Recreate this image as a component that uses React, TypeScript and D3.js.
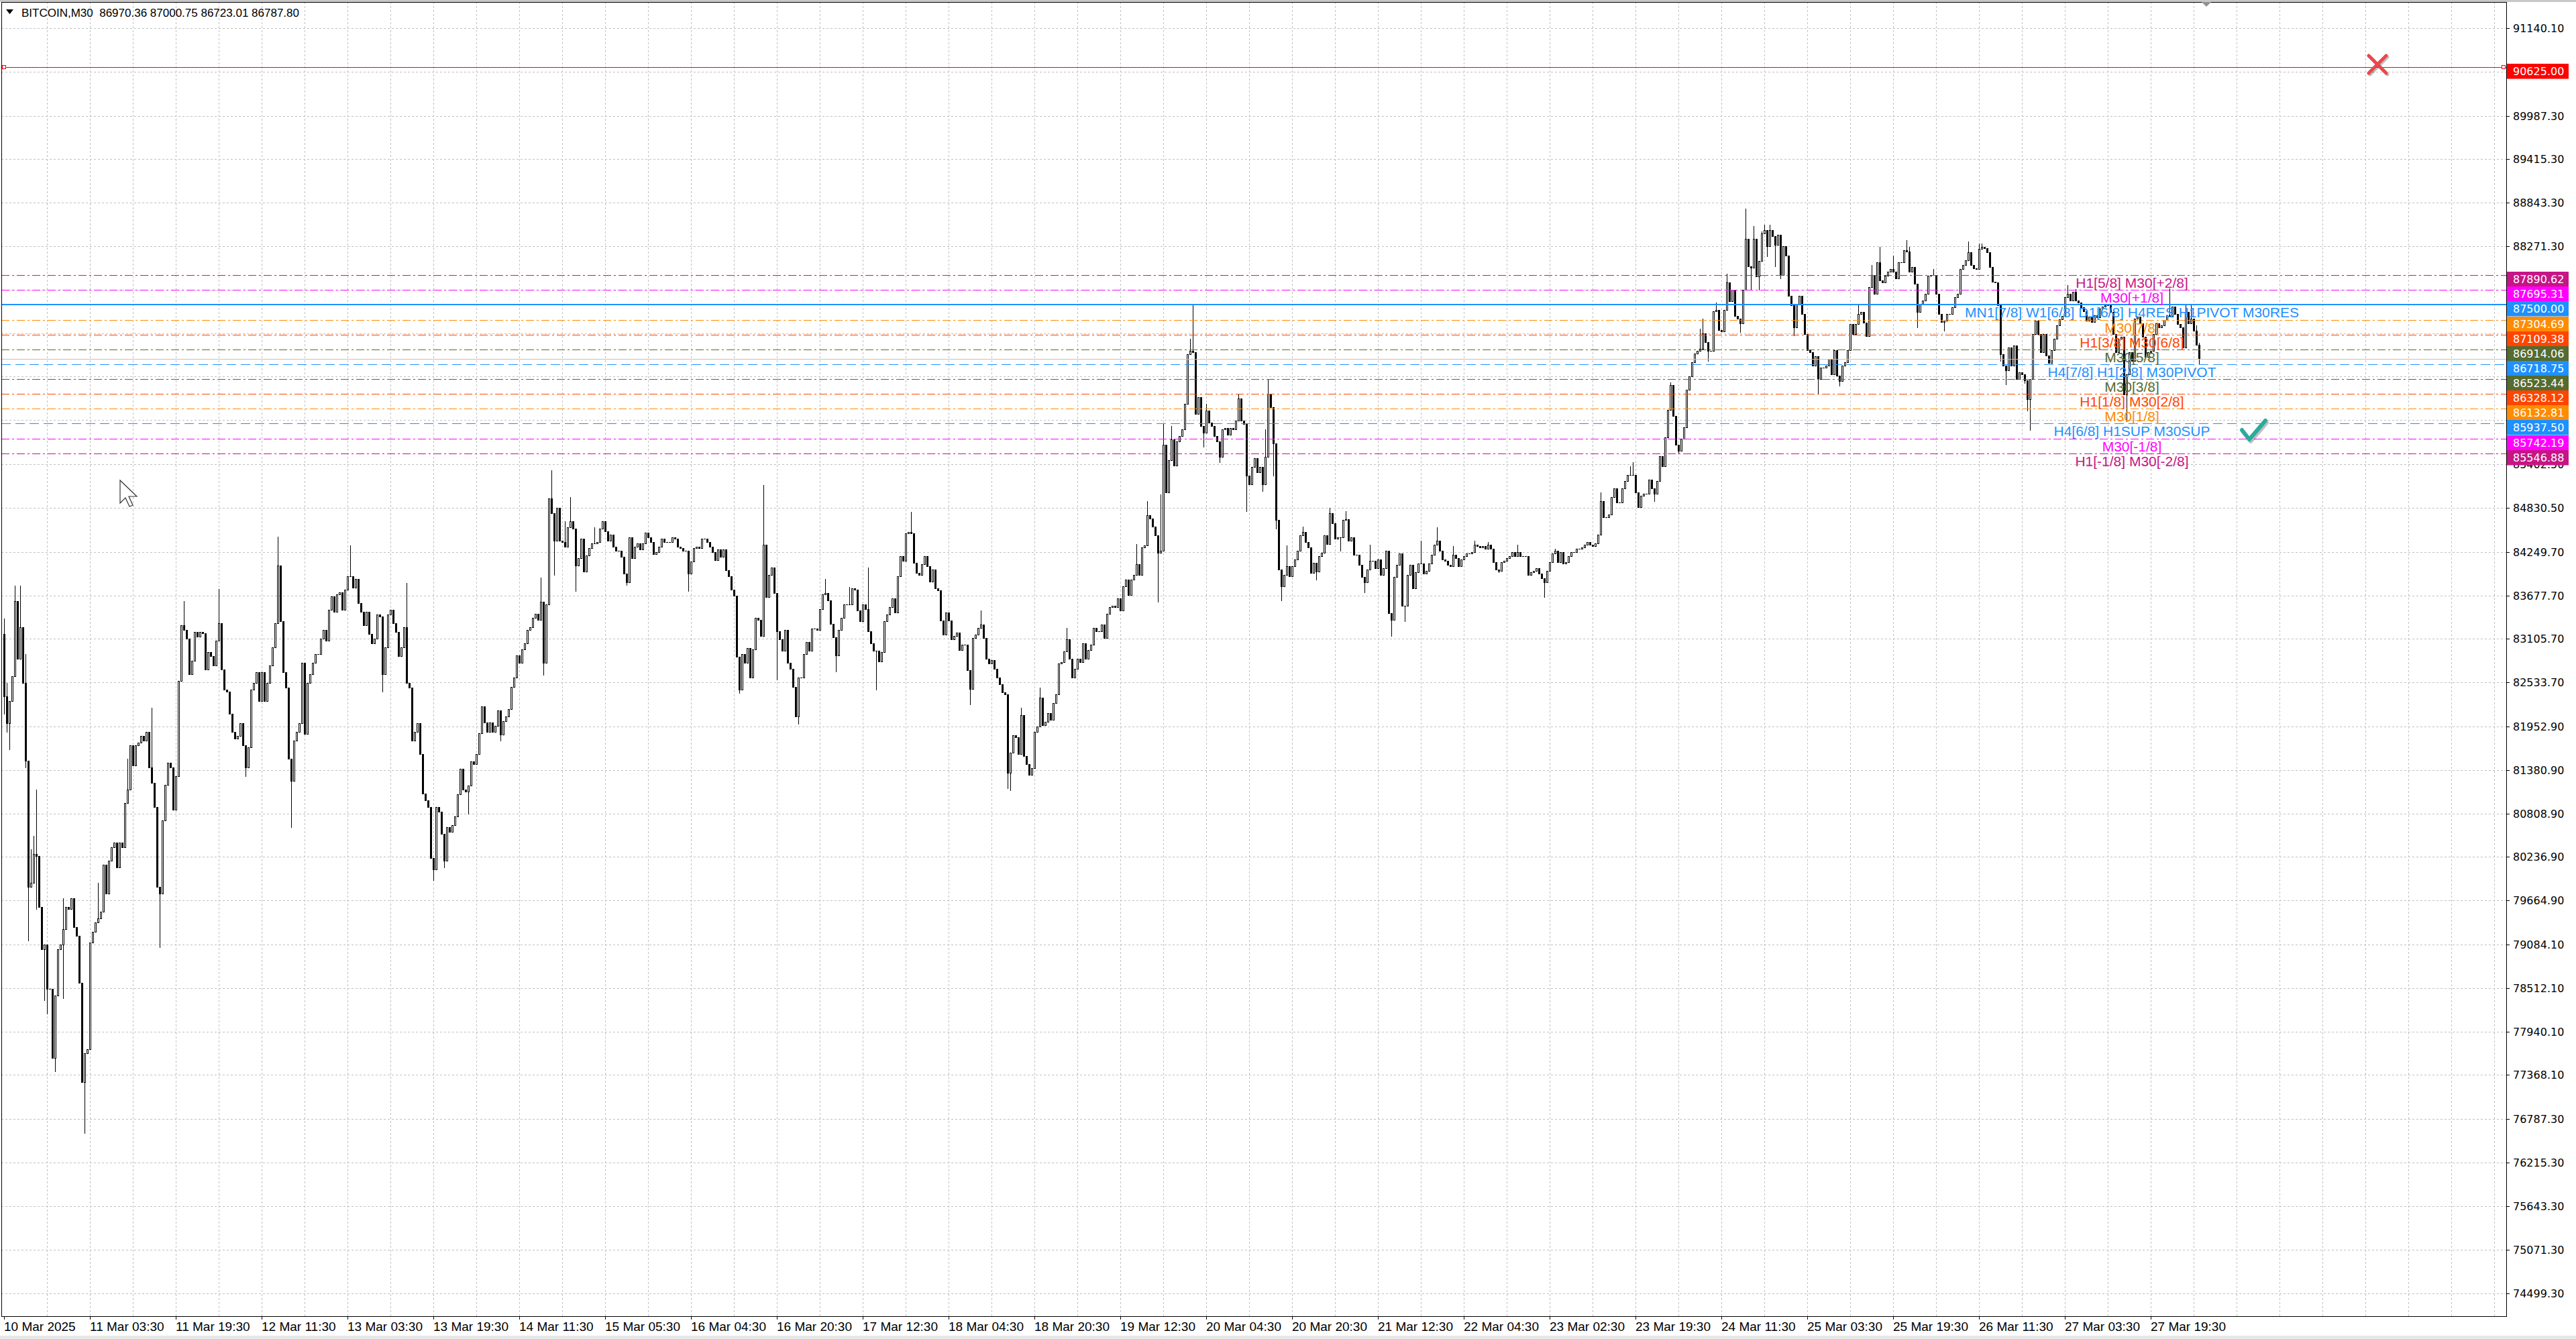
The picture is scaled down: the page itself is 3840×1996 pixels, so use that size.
import React, { useEffect, useRef } from 'react';
import * as d3 from 'd3';

const W = 3840;
const H = 1996;
const plotLeft = 2;
const plotRight = 3736;
const plotTop = 3;
const plotBottom = 1962;

// M30 closes (bar 0 = 10 Mar 11:30)
const firstOpen = 83167;
const closes = [
  82350, 82000, 82292, 82613, 83605, 82846, 83255, 82525, 81504, 79840,
  79898, 80278, 80249, 79578, 79023, 79081, 78498, 78498, 77593, 78410,
  79023, 79081, 79286, 79578, 79548, 79694, 79315, 79198, 78585, 77272,
  77651, 77710, 79110, 79256, 79373, 79432, 79519, 80132, 79753, 80190,
  80365, 80424, 80103, 80424, 80365, 80949, 81124, 81708, 81445, 81708,
  81737, 81825, 81766, 81883, 81416, 81212, 80891, 79840, 79753, 80716,
  81183, 81474, 81416, 80861, 81299, 82554, 83284, 83226, 83109, 82642,
  82817, 83196, 83138, 83196, 83179, 82700, 82934, 82875, 82759, 83080,
  83313, 82700, 82438, 82408, 82117, 81883, 81796, 81825, 82000, 81708,
  81416, 81679, 82438, 82525, 82671, 82292, 82671, 82292, 82525, 82759,
  82992, 83313, 84072, 83342, 82671, 82467, 81533, 81241, 81766, 81883,
  82000, 82788, 81854, 82525, 82642, 82788, 82905, 82905, 83109, 83226,
  83080, 83488, 83663, 83459, 83693, 83722, 83488, 83751, 83926, 83926,
  83780, 83897, 83576, 83459, 83284, 83459, 83167, 83050, 83109, 83430,
  83401, 82642, 82992, 83430, 83488, 83313, 83196, 82875, 82992, 83255,
  82525, 82467, 81766, 81883, 82000, 81591, 81066, 80978, 80891, 80219,
  80074, 80891, 80832, 80541, 80190, 80628, 80570, 80657, 80774, 81061,
  81395, 81120, 81100, 81179, 81493, 81454, 81592, 81867, 82220, 82004,
  81886, 82004, 81886, 81965, 82161, 81847, 82024, 82083, 82181, 82476,
  82594, 82888, 82790, 82967, 83045, 83222, 83262, 83379, 83438, 83360,
  83595, 82790, 83556, 84951, 84755, 84401, 84833, 84401, 84381, 84322,
  84578, 84656, 84558, 84067, 84165, 84420, 83988, 84205, 84303, 84362,
  84362, 84381, 84558, 84656, 84519, 84401, 84480, 84322, 84263, 84263,
  84185, 83969, 83851, 84440, 84165, 84322, 84362, 84283, 84362, 84499,
  84440, 84381, 84224, 84244, 84322, 84420, 84381, 84381, 84381, 84440,
  84420, 84322, 84303, 84263, 84263, 83969, 84126, 84303, 84322, 84303,
  84420, 84420, 84381, 84322, 84244, 84145, 84283, 84185, 84283, 84008,
  83930, 83753, 83674, 82869, 82436, 82908, 82790, 82986, 82594, 82967,
  83379, 83360, 83144, 84342, 83654, 83949, 84047, 83713, 83203, 83104,
  82947, 83222, 82790, 82711, 82476, 82083, 82594, 82594, 82908, 83065,
  82947, 83242, 83242, 83222, 83497, 83694, 83713, 83615, 83301, 83124,
  82888, 83222, 83379, 83556, 83556, 83556, 83772, 83753, 83478, 83340,
  83556, 83497, 83203, 83045, 82947, 82947, 82810, 82928, 83340, 83430,
  83523, 83635, 83455, 83927, 84197, 84130, 84490, 84512, 84490, 84108,
  83973, 83950, 84085, 84197, 84063, 83860, 84018, 83770, 83748, 83343,
  83163, 83455, 83343, 83096, 83141, 83186, 82961, 83028, 83028, 82691,
  82444, 83118, 83163, 83253, 83298, 83118, 82848, 82781, 82826, 82713,
  82601, 82511, 82399, 82376, 81342, 81612, 81836, 81814, 81589, 82106,
  81567, 81454, 81319, 81409, 81881, 81949, 82331, 81971, 82016, 82129,
  82039, 82264, 82376, 82781, 82803, 82938, 83096, 82848, 82601, 82713,
  82848, 82803, 83051, 82848, 82961, 83028, 83253, 83208, 83208, 83298,
  83118, 83433, 83523, 83545, 83523, 83635, 83478, 83793, 83883, 83680,
  83883, 83950, 84085, 83950, 84310, 84332, 84737, 84692, 84580, 84467,
  84242, 84265, 85659, 85029, 85457, 85726, 85389, 85704, 85771, 85861,
  86199, 86851, 86896, 86873, 86064, 86288, 85906, 85816, 86109, 85951,
  85906, 85771, 85704, 85502, 85861, 85884, 85794, 85884, 85861, 85974,
  86266, 85974, 85929, 85254, 85142, 85367, 85479, 85299, 85367, 85142,
  85502, 86333, 86154, 85681, 84670, 84017, 83793, 83950, 84063, 83928,
  84063, 84153, 84265, 84467, 84512, 84377, 84310, 83973, 84108, 83995,
  84197, 84242, 84467, 84355, 84760, 84625, 84422, 84445, 84439, 84668,
  84676, 84401, 84439, 84210, 84210, 84077, 83924, 83848, 84020, 84134,
  84134, 84039, 84153, 83943, 84039, 84268, 83448, 83353, 83924, 84077,
  84229, 83543, 83543, 83943, 84077, 83772, 83982, 84096, 84096, 83963,
  84001, 84096, 84210, 84344, 84401, 84268, 84153, 84134, 84077, 84058,
  84210, 84172, 84058, 84153, 84191, 84229, 84229, 84248, 84344, 84325,
  84306, 84325, 84287, 84344, 84287, 84115, 84020, 84001, 84115, 84134,
  84172, 84191, 84248, 84191, 84248, 84191, 84191, 84191, 83943, 83982,
  84001, 84039, 83963, 83905, 83848, 84001, 84115, 84229, 84268, 84115,
  84248, 84096, 84115, 84191, 84248, 84248, 84287, 84287, 84306, 84344,
  84382, 84344, 84325, 84363, 84477, 84916, 84706, 84706, 84744, 84973,
  85087, 84897, 84897, 85087, 85183, 85259, 85259, 85259, 85030, 84840,
  84992, 85011, 85011, 85202, 85087, 85011, 85183, 85507, 85373, 85755,
  86117, 86441, 86041, 85660, 85583, 85736, 85888, 86384, 86556, 86746,
  86861, 86899, 86918, 87127, 87013, 86899, 86899, 87413, 87433, 87166,
  87147, 87433, 87795, 87547, 87699, 87356, 87318, 87261, 87699, 88367,
  88004, 87985, 88367, 87871, 88081, 88443, 88481, 88271, 88481, 88405,
  88290, 88424, 87890, 88271, 88145, 87615, 87497, 87203, 87512, 87615,
  87379, 87114, 86908, 86879, 86702, 86820, 86525, 86673, 86673, 86702,
  86790, 86584, 86908, 86570, 86496, 86702, 86746, 86908, 87247, 87114,
  87247, 87379, 87409, 87262, 87085, 87733, 87895, 87644, 88057, 87821,
  87792, 87880, 87939, 87968, 87939, 87850, 88057, 88057, 88218, 88204,
  87939, 87998, 87777, 87409, 87512, 87556, 87644, 87880, 87895, 87895,
  87644, 87379, 87276, 87291, 87379, 87379, 87468, 87600, 87644, 87968,
  88027, 88087, 88189, 88027, 87983, 87968, 88233, 88263, 88248, 88189,
  88002, 87806, 87792, 87497, 86849, 86702, 86643, 86938, 86702, 86967,
  86525, 86614, 86584, 86511, 86260, 86525, 87114, 87291, 87114, 86879,
  87114, 86835, 86732, 86908, 87055, 87232, 87306, 87350, 87600, 87644,
  87556, 87674, 87556, 87527, 87468, 87420, 87288, 87347, 87274, 87362,
  87332, 87450, 87479, 87494, 87509, 87406, 87112, 86877, 87053, 87083,
  86319, 86584, 86877, 86760, 87318, 87347, 87259, 87083, 86818, 86877,
  86892, 87112, 87259, 87200, 87230, 87303, 87362, 87347, 87479, 87377,
  87244, 87200, 86936, 87406, 87259, 87318, 87156, 86970.36, 86787.8,
];

// [bar, price] of the wicks that stick out past the bodies
const wickHighs: [number, number][] = [
  [0, 83372], [1, 82525], [4, 83809], [6, 83809], [8, 82905], [10, 80336], [11, 80511], [12, 81124],
  [22, 79694], [35, 79898], [46, 81533], [55, 82204], [67, 83605], [80, 83763], [102, 84451],
  [129, 84335], [150, 83838], [200, 83910], [204, 85324], [209, 84656], [211, 84971], [220, 84578],
  [283, 85128], [306, 83890], [315, 83792], [322, 84047], [338, 84773], [364, 83478], [379, 82196],
  [386, 82466], [396, 83253], [422, 84355], [426, 84917], [431, 85007], [432, 85929], [435, 85906],
  [442, 87053], [443, 87503], [448, 86199], [460, 86333], [470, 85861], [471, 86513], [478, 84332],
  [484, 84580], [494, 84827], [500, 84790], [509, 84344], [528, 84401], [534, 84573], [540, 84325],
  [548, 84401], [553, 84382], [564, 84344], [578, 84287], [595, 85030], [606, 85374], [607, 85431],
  [621, 86479], [632, 87185], [633, 87318], [638, 87528], [642, 87909], [649, 88767], [652, 88538],
  [655, 88462], [656, 88557], [658, 88557], [691, 87512], [696, 88027], [699, 88263], [704, 88145],
  [709, 88351], [710, 88263], [719, 87968], [732, 88336], [736, 88307], [737, 88307], [769, 87762],
  [772, 87703], [807, 87714], [813, 87494], [815, 87494], [817, 87230], [818, 87000.75],
];
const wickLows: [number, number][] = [
  [0, 82117], [1, 81883], [2, 81650], [8, 81416], [9, 79139], [12, 79548], [15, 78352], [16, 78177],
  [19, 77418], [22, 78381], [30, 76600], [58, 79052], [90, 81299], [107, 80628], [141, 82408],
  [160, 79928], [164, 80099], [173, 80806], [185, 81769], [201, 82633], [205, 83949], [213, 83733],
  [232, 83812], [255, 83733], [274, 82397], [288, 82574], [296, 81985], [310, 82672], [325, 82436],
  [360, 82241], [374, 81139], [375, 81114], [430, 83590], [447, 85636], [453, 85434], [463, 84782],
  [469, 85052], [473, 85254], [474, 84557], [476, 83613], [489, 83883], [498, 84268], [507, 83714],
  [517, 83143], [522, 83334], [557, 83982], [574, 83658], [615, 84916], [624, 85545], [635, 86765],
  [647, 87146], [651, 87699], [654, 87699], [657, 88138], [660, 88004], [662, 87852], [667, 87100],
  [676, 86334], [684, 86437], [713, 87203], [723, 87158], [744, 86761], [746, 86452], [753, 86467],
  [754, 86113], [755, 85850], [791, 85967], [818, 86723.01],
];

// price grid levels; the ones hidden behind the level boxes carry no label
const priceTicks = [
  '91140.10', '90568.10', '89987.30', '89415.30', '88843.30', '88271.30', '87699.30', '87127.30',
  '86555.30', '85983.30', '85402.50', '84830.50', '84249.70', '83677.70', '83105.70', '82533.70',
  '81952.90', '81380.90', '80808.90', '80236.90', '79664.90', '79084.10', '78512.10', '77940.10',
  '77368.10', '76787.30', '76215.30', '75643.30', '75071.30', '74499.30',
];
const hiddenTicks = ['90568.10', '87699.30', '87127.30', '86555.30', '85983.30'];

// one label every 32 bars
const timeLabels = [
  '10 Mar 2025', '11 Mar 03:30', '11 Mar 19:30', '12 Mar 11:30', '13 Mar 03:30', '13 Mar 19:30',
  '14 Mar 11:30', '15 Mar 05:30', '16 Mar 04:30', '16 Mar 20:30', '17 Mar 12:30', '18 Mar 04:30',
  '18 Mar 20:30', '19 Mar 12:30', '20 Mar 04:30', '20 Mar 20:30', '21 Mar 12:30', '22 Mar 04:30',
  '23 Mar 02:30', '23 Mar 19:30', '24 Mar 11:30', '25 Mar 03:30', '25 Mar 19:30', '26 Mar 11:30',
  '27 Mar 03:30', '27 Mar 19:30',
];

const murreyLevels = [
  87890.62, 87695.31, 87500.0, 87304.69, 87109.38, 86914.06, 86718.75,
  86523.44, 86328.12, 86132.81, 85937.5, 85742.19, 85546.88,
];
const murreyNames = [
  'H1[5/8] M30[+2/8]', 'M30[+1/8]', 'MN1[7/8] W1[6/8] D1[6/8] H4RES H1PIVOT M30RES', 'M30[7/8]',
  'H1[3/8] M30[6/8]', 'M30[5/8]', 'H4[7/8] H1[2/8] M30PIVOT', 'M30[3/8]', 'H1[1/8] M30[2/8]',
  'M30[1/8]', 'H4[6/8] H1SUP M30SUP', 'M30[-1/8]', 'H1[-1/8] M30[-2/8]',
];
const stopLevel = 90625.0;
const title = 'BITCOIN,M30  86970.36 87000.75 86723.01 86787.80';

// styles of the level lines
const levelColors = [
  '#C71585', '#FF00FF', '#1E90FF', '#FF8C00', '#FF4500', '#556B2F', '#1E90FF',
  '#556B2F', '#FF4500', '#FF8C00', '#1E90FF', '#FF00FF', '#C71585',
];
const levelDash = (i: number) => (i === 2 ? null : i === 6 || i === 10 ? '14,7' : '12,4,3,4');

const App: React.FC = () => {
  const svgRef = useRef<SVGSVGElement>(null);

  useEffect(() => {
    document.body.style.margin = '0';
    document.body.style.overflow = 'hidden';
    if (!svgRef.current) return;

    const svg = d3.select(svgRef.current);
    svg.selectAll('*').remove();

    const x = d3.scaleLinear().domain([0, 800]).range([6, 3206]);
    const y = d3.scaleLinear().domain([74499.3, 91140.1]).range([1927.5, 42]);
    const py = (p: number) => Math.round(y(p));

    svg.append('rect').attr('width', W).attr('height', H).attr('fill', '#fff');
    svg.append('rect').attr('x', 0).attr('y', 0).attr('width', W).attr('height', 3).attr('fill', '#c8c8c8');
    svg.append('rect').attr('x', 0).attr('y', 1991).attr('width', W).attr('height', 5).attr('fill', '#e8e8e8');

    // grid
    const grid = svg.append('g')
      .attr('stroke', '#c0c0c0')
      .attr('stroke-dasharray', '3,3')
      .attr('shape-rendering', 'crispEdges');
    priceTicks.forEach(t => {
      const yy = py(+t) + 0.5;
      grid.append('line').attr('x1', plotLeft).attr('x2', plotRight).attr('y1', yy).attr('y2', yy);
    });
    for (let j = 16; x(j) < plotRight; j += 16) {
      const xx = x(j) + 0.5;
      grid.append('line').attr('x1', xx).attr('x2', xx).attr('y1', plotTop).attr('y2', plotBottom);
    }

    // candles
    const hiMap = new Map(wickHighs);
    const loMap = new Map(wickLows);
    const candles = svg.append('g').attr('shape-rendering', 'crispEdges');
    closes.forEach((c, j) => {
      const o = j === 0 ? firstOpen : closes[j - 1];
      const h = Math.max(o, c, hiMap.get(j) ?? -Infinity);
      const l = Math.min(o, c, loMap.get(j) ?? Infinity);
      const cx = x(j);
      candles.append('line')
        .attr('x1', cx + 0.5).attr('x2', cx + 0.5)
        .attr('y1', py(h)).attr('y2', py(l) + 1)
        .attr('stroke', '#000');
      const top = py(Math.max(o, c));
      const bot = py(Math.min(o, c));
      if (bot - top < 1) {
        candles.append('line')
          .attr('x1', cx - 1).attr('x2', cx + 2)
          .attr('y1', top + 0.5).attr('y2', top + 0.5)
          .attr('stroke', '#000');
      } else {
        candles.append('rect')
          .attr('x', cx - 0.5).attr('y', top + 0.5)
          .attr('width', 2).attr('height', bot - top)
          .attr('fill', c >= o ? '#fff' : '#000')
          .attr('stroke', '#000');
      }
    });

    // bid line
    const bidY = py(closes[closes.length - 1]) + 0.5;
    svg.append('line')
      .attr('x1', plotLeft).attr('x2', plotRight).attr('y1', bidY).attr('y2', bidY)
      .attr('stroke', '#c0c0c0').attr('shape-rendering', 'crispEdges');

    // murrey level lines
    const lines = svg.append('g').attr('shape-rendering', 'crispEdges');
    murreyLevels.forEach((lv, i) => {
      const yy = py(lv) + (i === 2 ? 0 : 0.5);
      const ln = lines.append('line')
        .attr('x1', plotLeft).attr('x2', plotRight).attr('y1', yy).attr('y2', yy)
        .attr('stroke', levelColors[i])
        .attr('stroke-width', i === 2 ? 2 : 1);
      const d = levelDash(i);
      if (d) ln.attr('stroke-dasharray', d);
    });

    // stop line
    const sy = py(stopLevel) + 0.5;
    lines.append('line')
      .attr('x1', plotLeft).attr('x2', plotRight).attr('y1', sy).attr('y2', sy)
      .attr('stroke', '#ff0000');
    [plotLeft + 1, plotRight - 7].forEach(rx => {
      lines.append('rect').attr('x', rx + 0.5).attr('y', sy - 3).attr('width', 5).attr('height', 5)
        .attr('fill', '#fff').attr('stroke', '#ff0000');
    });

    // level names
    const names = svg.append('g')
      .attr('font-family', '"Liberation Sans", Arial, sans-serif')
      .attr('font-size', 21)
      .attr('text-anchor', 'middle');
    murreyLevels.forEach((lv, i) => {
      names.append('text')
        .attr('x', 3178).attr('y', py(lv) + 19)
        .attr('fill', levelColors[i])
        .text(murreyNames[i]);
    });

    // frame
    svg.append('rect')
      .attr('x', plotLeft + 0.5).attr('y', plotTop + 0.5)
      .attr('width', plotRight - plotLeft).attr('height', plotBottom - plotTop)
      .attr('fill', 'none').attr('stroke', '#000').attr('shape-rendering', 'crispEdges');

    // price axis
    const axis = svg.append('g')
      .attr('font-family', '"DejaVu Sans", Verdana, sans-serif')
      .attr('font-size', 16);
    priceTicks.forEach(t => {
      const yy = py(+t);
      axis.append('line').attr('x1', plotRight).attr('x2', plotRight + 5)
        .attr('y1', yy + 0.5).attr('y2', yy + 0.5).attr('stroke', '#000');
      if (!hiddenTicks.includes(t)) {
        axis.append('text').attr('x', 3746).attr('y', yy + 6).attr('fill', '#000').text(t);
      }
    });
    const boxLabel = (lv: number, color: string) => {
      const yy = py(lv);
      axis.append('rect').attr('x', plotRight + 1).attr('y', yy - 5)
        .attr('width', 92).attr('height', 22.5).attr('fill', color);
      axis.append('text').attr('x', 3746).attr('y', yy + 12).attr('fill', '#fff').text(lv.toFixed(2));
    };
    murreyLevels.forEach((lv, i) => boxLabel(lv, levelColors[i]));
    boxLabel(stopLevel, '#ff0000');

    // time axis
    const tAxis = svg.append('g')
      .attr('font-family', '"Liberation Sans", Arial, sans-serif')
      .attr('font-size', 19);
    timeLabels.forEach((lab, k) => {
      const xx = x(k * 32);
      tAxis.append('line').attr('x1', xx + 0.5).attr('x2', xx + 0.5)
        .attr('y1', plotBottom).attr('y2', plotBottom + 5).attr('stroke', '#000');
      tAxis.append('text').attr('x', xx).attr('y', 1984).attr('fill', '#000').text(lab);
    });

    // title
    svg.append('path').attr('d', 'M9,14 L20,14 L14.5,21 Z').attr('fill', '#000');
    svg.append('text')
      .attr('x', 32).attr('y', 25)
      .attr('font-family', '"Liberation Sans", Arial, sans-serif')
      .attr('font-size', 17)
      .attr('fill', '#000')
      .style('white-space', 'pre')
      .text(title);

    // chart shift marker
    svg.append('path').attr('d', 'M3282,3 L3296,3 L3289,10 Z').attr('fill', '#909090');

    // cross mark
    const cx0 = 3544, cy0 = 96, r = 13;
    [[2, 2, 'rgba(0,0,0,0.25)'], [0, 0, '#e8484c']].forEach(([dx, dy, col]) => {
      const g = svg.append('g').attr('stroke', col as string).attr('stroke-width', 5).attr('stroke-linecap', 'round');
      g.append('line').attr('x1', cx0 - r + +dx).attr('y1', cy0 - r + +dy).attr('x2', cx0 + r + +dx).attr('y2', cy0 + r + +dy);
      g.append('line').attr('x1', cx0 + r + +dx).attr('y1', cy0 - r + +dy).attr('x2', cx0 - r + +dx).attr('y2', cy0 + r + +dy);
    });

    // check mark
    [[2, 3, 'rgba(0,0,0,0.25)'], [0, 0, '#2bab9b']].forEach(([dx, dy, col]) => {
      svg.append('path')
        .attr('d', `M${3342 + +dx},${641 + +dy} L${3353 + +dx},${655 + +dy} L${3377 + +dx},${627 + +dy}`)
        .attr('fill', 'none').attr('stroke', col as string).attr('stroke-width', 6)
        .attr('stroke-linecap', 'round').attr('stroke-linejoin', 'round');
    });

    // mouse cursor
    svg.append('path')
      .attr('d', 'M179,716 L179,750 L187,742 L193,755 L198,753 L192,740 L204,740 Z')
      .attr('fill', '#fff').attr('stroke', '#333').attr('stroke-width', 1.2);
  }, []);

  return <svg ref={svgRef} width={W} height={H} style={{ position: 'absolute', left: 0, top: 0 }} />;
};

export default App;
